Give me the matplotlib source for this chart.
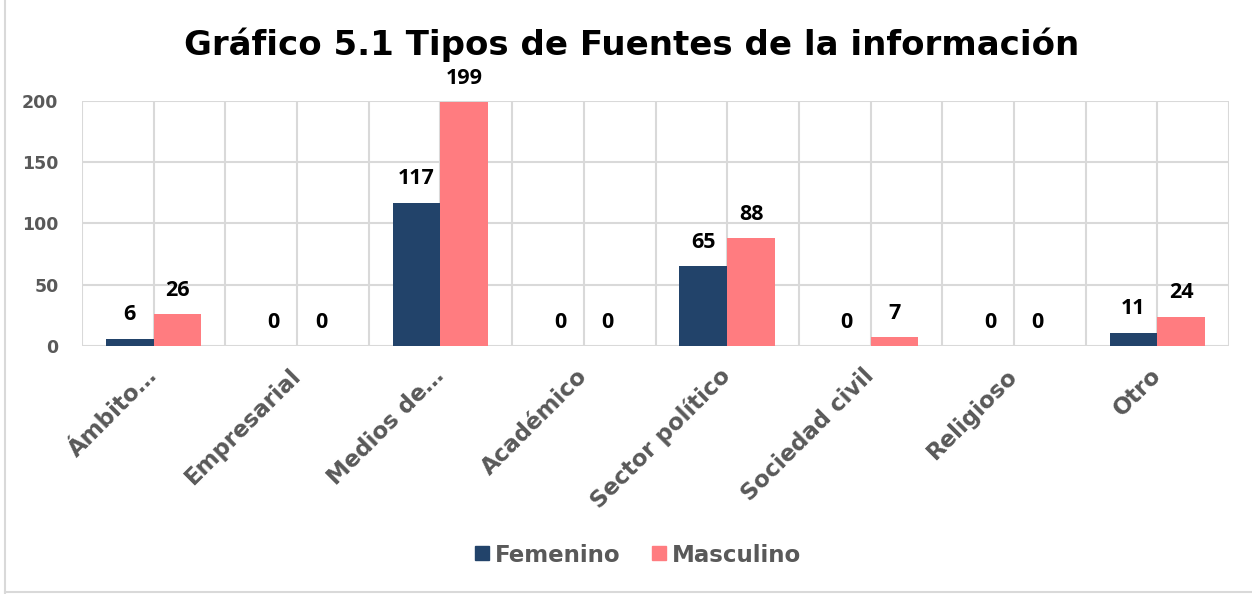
import matplotlib
matplotlib.use("Agg")
import matplotlib.pyplot as plt
import numpy as np
from matplotlib.lines import Line2D

categories = ["Ámbito…", "Empresarial", "Medios de…", "Académico",
              "Sector político", "Sociedad civil", "Religioso", "Otro"]
femenino = [6, 0, 117, 0, 65, 0, 0, 11]
masculino = [26, 0, 199, 0, 88, 7, 0, 24]
series_names = ["Femenino", "Masculino"]
yticks = [0, 50, 100, 150, 200]

c_fem = "#22436A"
c_mas = "#FF7C80"
gray = "#595959"
grid = "#D9D9D9"
font_main = ["DejaVu Sans"]
font_lbl = ["Open Sans", "DejaVu Sans"]

fig = plt.figure(figsize=(12.52, 5.94), dpi=100)
ax = fig.add_axes([82/1252, 1-346/594, (1229-82)/1252, (346-101)/594])

n = len(categories)
x = np.arange(n)
w = 1/3
b1 = ax.bar(x - w/2, femenino, width=w, color=c_fem, zorder=3)
b2 = ax.bar(x + w/2, masculino, width=w, color=c_mas, zorder=3)

for bars, vals in ((b1, femenino), (b2, masculino)):
    for r, v in zip(bars, vals):
        ax.annotate(str(v), (r.get_x() + r.get_width()/2, v),
                    xytext=(0, 9.5), textcoords="offset points",
                    ha="center", va="bottom", fontsize=15.5, fontweight="bold",
                    family=font_lbl, color="black", zorder=4)

ax.set_xlim(-0.5, n - 0.5)
ax.set_ylim(0, 200)
ax.set_yticks(yticks)
ax.set_yticklabels([str(t) for t in yticks], fontsize=12.5, fontweight="bold",
                   family=font_main, color=gray)
ax.set_xticks(x)
ax.set_xticklabels(categories, rotation=45, ha="right", va="center",
                   rotation_mode="anchor", fontsize=16.5, fontweight="bold",
                   family=font_main, color=gray)
ax.tick_params(axis="x", length=0, pad=19)
ax.tick_params(axis="y", length=0, pad=17)

for t in yticks:
    ax.axhline(t, color=grid, lw=1.5, zorder=1)
for k in np.arange(-0.5, n, 0.5):
    ax.axvline(k, color=grid, lw=1.5, zorder=1)
for s in ax.spines.values():
    s.set_visible(False)

fig.text(632/1252, 1-45/594, "Gráfico 5.1 Tipos de Fuentes de la información",
         ha="center", va="center", fontsize=24.5, fontweight="bold",
         family=font_main, color="black")

handles = [Line2D([0], [0], marker="s", linestyle="none", markersize=10,
                  markerfacecolor=c, markeredgecolor=c) for c in (c_fem, c_mas)]
fig.legend(handles, series_names, loc="center", bbox_to_anchor=(636/1252, 1-555/594),
           ncol=2, frameon=False, handletextpad=0.05, columnspacing=1.2,
           handlelength=1.0,
           prop={"family": font_main, "weight": "bold", "size": 16.5},
           labelcolor=gray)

fig.add_artist(Line2D([5/1252, 5/1252], [0, 1], color=grid, lw=1.5))
fig.add_artist(Line2D([5/1252, 1], [2/594, 2/594], color=grid, lw=1.5))

fig.savefig("out.png", dpi=100)
